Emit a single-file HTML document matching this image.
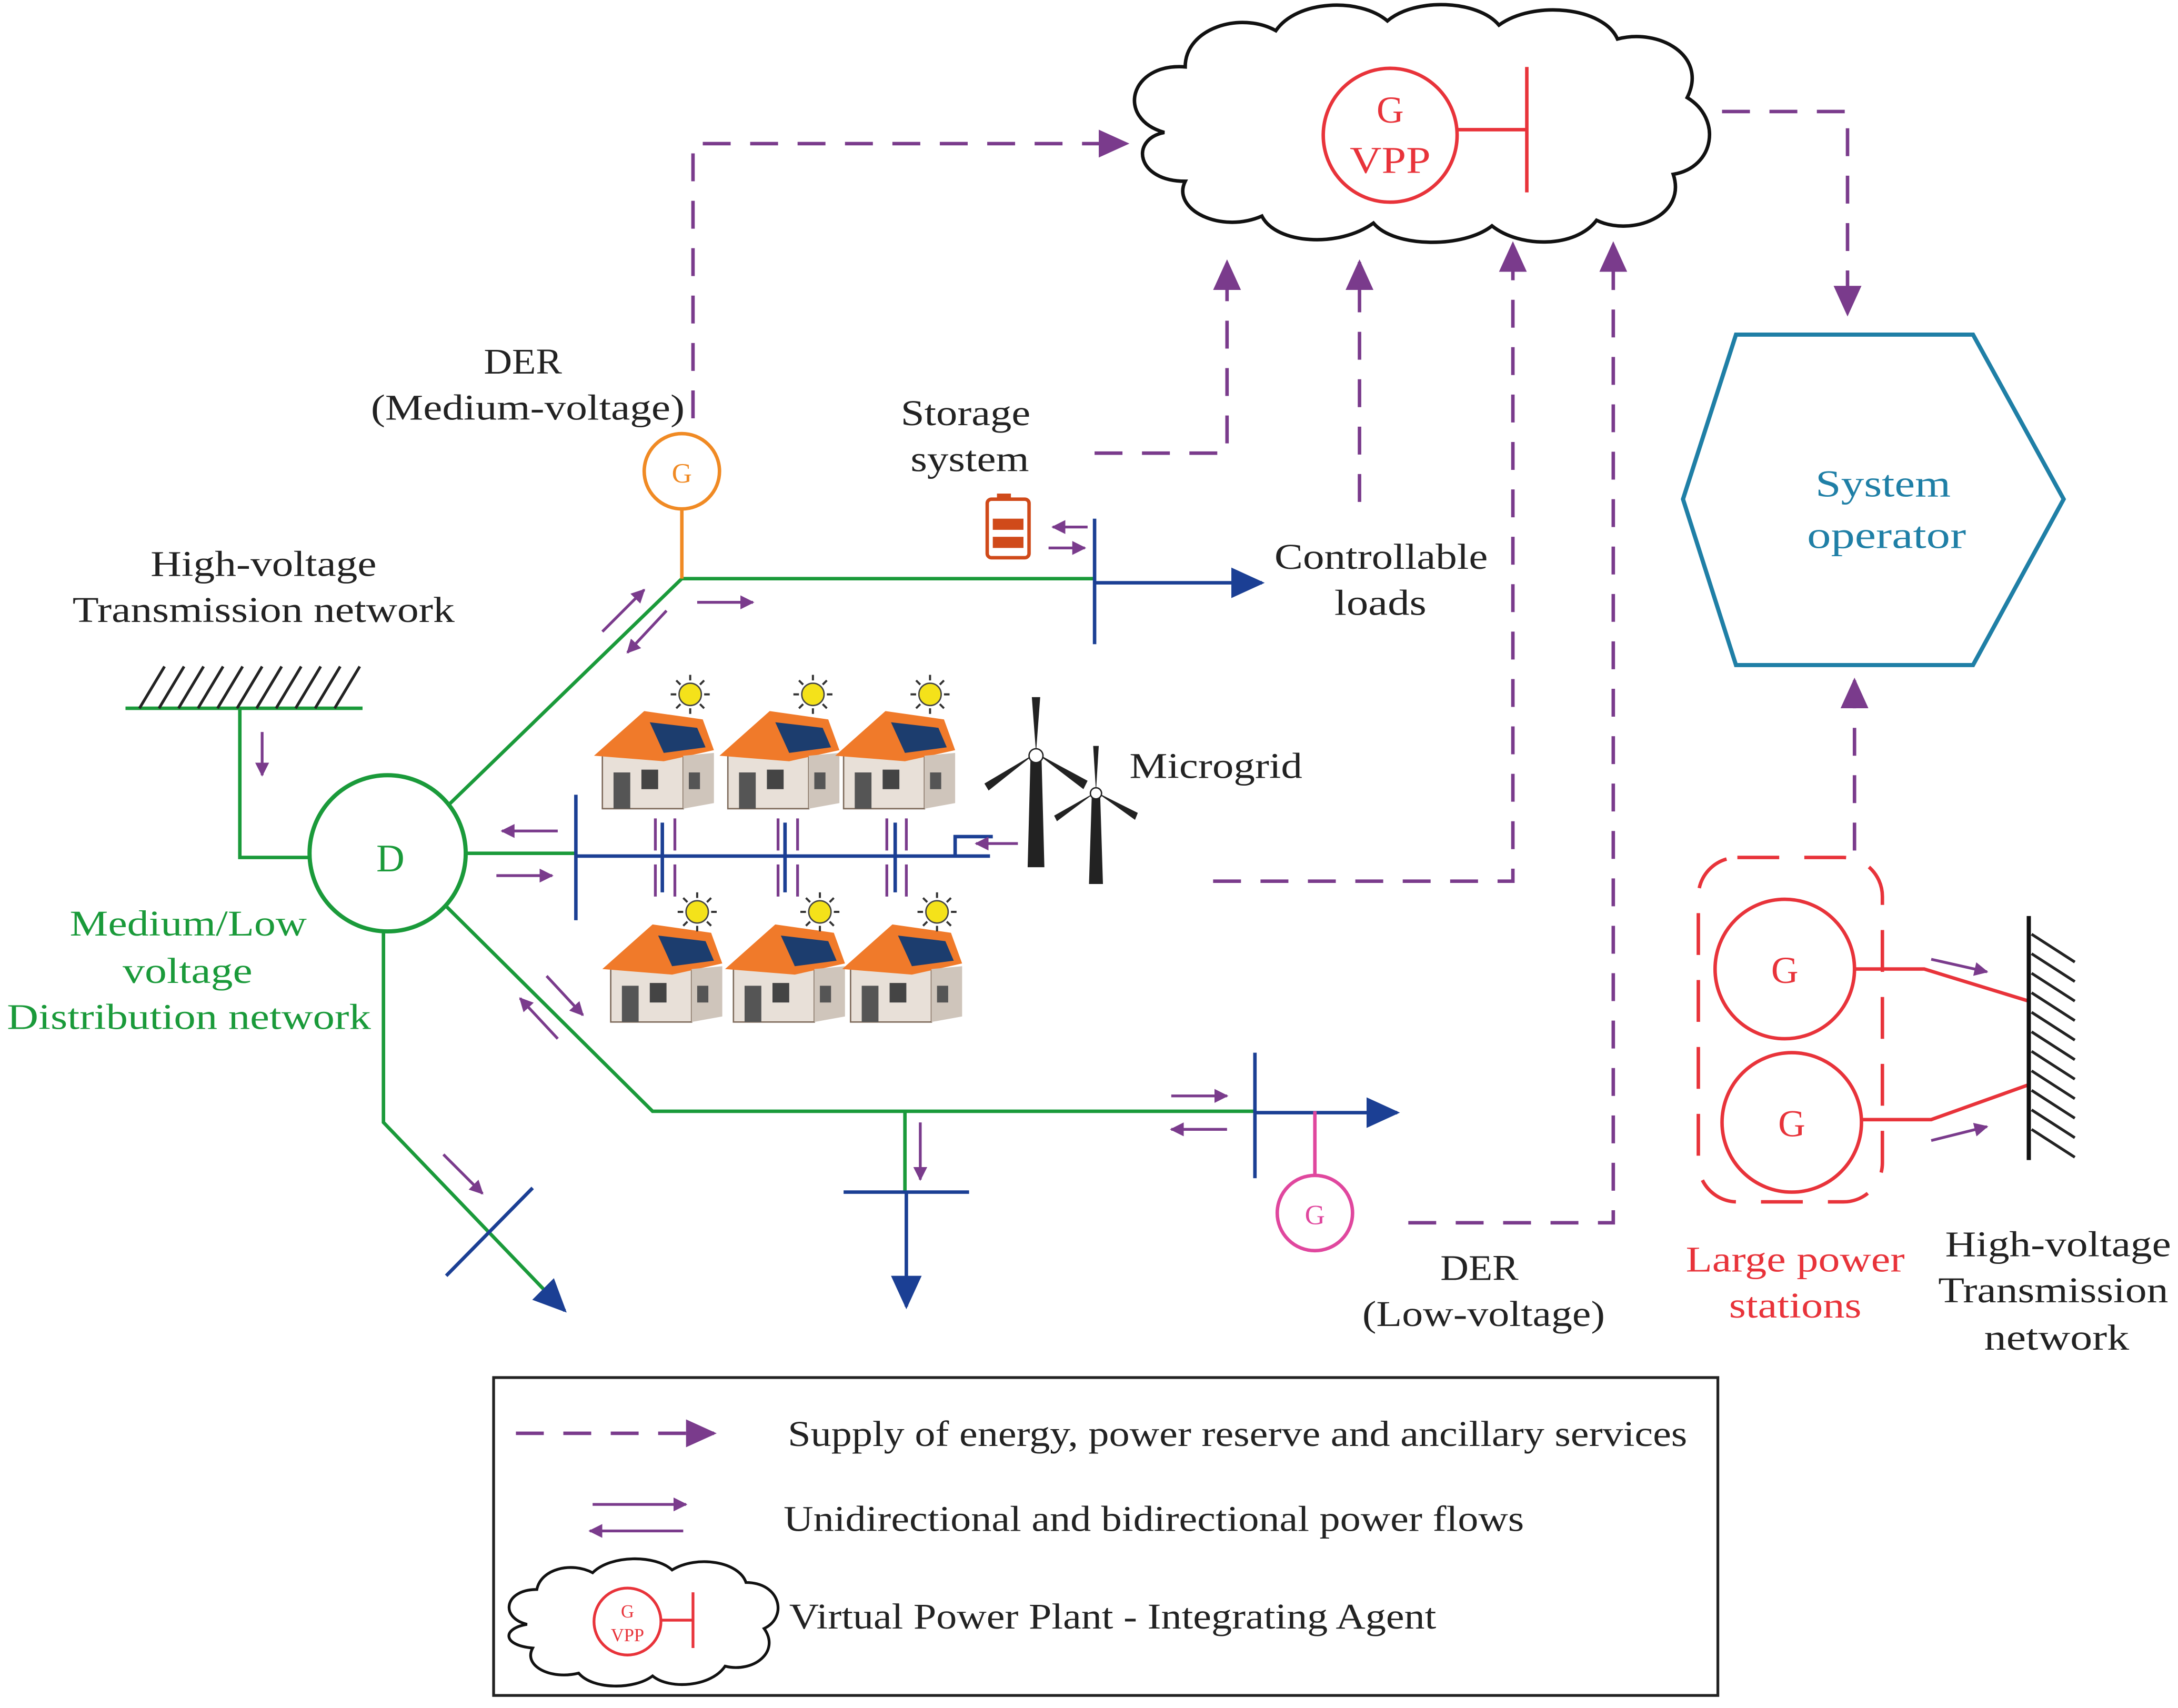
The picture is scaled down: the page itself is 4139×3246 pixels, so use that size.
<!DOCTYPE html>
<html><head><meta charset="utf-8"><style>
html,body{margin:0;padding:0;background:#fff;}
svg{display:block;}
text{font-family:"Liberation Serif",serif;}
</style></head><body>
<svg width="4139" height="3246" viewBox="0 0 1562 1225" xmlns="http://www.w3.org/2000/svg">
<defs>
<marker id="pa" markerWidth="10" markerHeight="10" refX="9" refY="5" orient="auto" markerUnits="userSpaceOnUse"><path d="M0,0 L10,5 L0,10 z" fill="#7a3b8c"/></marker>
<marker id="pb" markerWidth="22" markerHeight="20" refX="20" refY="10" orient="auto" markerUnits="userSpaceOnUse"><path d="M0,0 L22,10 L0,20 z" fill="#7a3b8c"/></marker>
<marker id="ba" markerWidth="24" markerHeight="22" refX="22" refY="11" orient="auto" markerUnits="userSpaceOnUse"><path d="M0,0 L24,11 L0,22 z" fill="#1b3f94"/></marker>
<g id="house">
<polygon points="0,30 30,5 58,30 58,70 0,70" fill="#e8e0d8" stroke="#7d6a5a" stroke-width="1"/>
<polygon points="-6,32 30,0 72,6 80,28 44,36" fill="#f07a2a"/>
<polygon points="34,8 68,12 74,26 44,30" fill="#1c3d6e"/>
<rect x="8" y="44" width="12" height="26" fill="#555"/>
<rect x="28" y="42" width="12" height="14" fill="#444"/>
<polygon points="58,32 80,30 80,66 58,70" fill="#cfc5bb"/>
<rect x="62" y="44" width="8" height="12" fill="#555"/>
</g>
<g id="sun"><circle r="8" fill="#f4e21a" stroke="#444" stroke-width="1"/><path d="M-14,0H-10M10,0H14M0,-14V-10M0,10V14M-10,-10L-7,-7M7,7L10,10M-10,10L-7,7M7,-7L10,-10" stroke="#333" stroke-width="1.5"/></g>
</defs>

<path d="M835,95 C800,85 810,45 850,48 C850,20 890,8 915,22 C930,0 975,-2 995,15 C1015,-2 1060,0 1075,18 C1100,0 1150,5 1160,28 C1190,20 1225,40 1210,70 C1235,85 1230,120 1200,125 C1210,155 1170,170 1145,158 C1130,178 1090,178 1070,162 C1050,178 1000,178 985,160 C960,178 915,175 905,155 C875,168 840,150 850,130 C815,130 810,100 835,95 z" fill="#fff" stroke="#111" stroke-width="2.5"/>
<circle cx="997" cy="97" r="48" fill="none" stroke="#e8333a" stroke-width="2.5"/>
<text x="997" y="88" font-size="27" fill="#e8333a" text-anchor="middle">G</text>
<text x="997" y="124" font-size="27" fill="#e8333a" text-anchor="middle" textLength="58" lengthAdjust="spacingAndGlyphs">VPP</text>
<path d="M1045,93H1095M1095,48V138" stroke="#e8333a" stroke-width="2.5" fill="none"/>

<g stroke="#7a3b8c" stroke-width="2.5" fill="none" stroke-dasharray="20,14">
<path d="M497,300V103H808" marker-end="url(#pb)"/>
<path d="M1235,80H1325V225" marker-end="url(#pb)"/>
<path d="M785,325H880V188" marker-end="url(#pb)"/>
<path d="M975,360V188" marker-end="url(#pb)"/>
<path d="M870,632H1085V175" marker-end="url(#pb)"/>
<path d="M1010,877H1157V175" marker-end="url(#pb)"/>
<path d="M1330,610V488" marker-end="url(#pb)"/>
</g>

<polygon points="1207,358 1245,240 1415,240 1480,358 1415,477 1245,477" fill="none" stroke="#1f7fa6" stroke-width="3"/>
<g font-size="27" fill="#1f7fa6" lengthAdjust="spacingAndGlyphs">
<text x="1302" y="356" textLength="97" lengthAdjust="spacingAndGlyphs">System</text>
<text x="1296" y="393" textLength="114" lengthAdjust="spacingAndGlyphs">operator</text>
</g>

<g font-size="26" fill="#222">
<text x="347" y="268" textLength="56" lengthAdjust="spacingAndGlyphs">DER</text>
<text x="266" y="301" textLength="225" lengthAdjust="spacingAndGlyphs">(Medium-voltage)</text>
<text x="646" y="305" textLength="93" lengthAdjust="spacingAndGlyphs">Storage</text>
<text x="653" y="338" textLength="85" lengthAdjust="spacingAndGlyphs">system</text>
<text x="914" y="408" textLength="153" lengthAdjust="spacingAndGlyphs">Controllable</text>
<text x="957" y="441" textLength="66" lengthAdjust="spacingAndGlyphs">loads</text>
<text x="108" y="413" textLength="162" lengthAdjust="spacingAndGlyphs">High-voltage</text>
<text x="52" y="446" textLength="274" lengthAdjust="spacingAndGlyphs">Transmission network</text>
<text x="810" y="558" textLength="124" lengthAdjust="spacingAndGlyphs">Microgrid</text>
<text x="1033" y="918" textLength="56" lengthAdjust="spacingAndGlyphs">DER</text>
<text x="977" y="951" textLength="174" lengthAdjust="spacingAndGlyphs">(Low-voltage)</text>
<text x="1395" y="901" textLength="162" lengthAdjust="spacingAndGlyphs">High-voltage</text>
<text x="1390" y="934" textLength="165" lengthAdjust="spacingAndGlyphs">Transmission</text>
<text x="1423" y="968" textLength="104" lengthAdjust="spacingAndGlyphs">network</text>
</g>
<g font-size="26" fill="#1a9a3a">
<text x="50" y="671" textLength="170" lengthAdjust="spacingAndGlyphs">Medium/Low</text>
<text x="88" y="705" textLength="93" lengthAdjust="spacingAndGlyphs">voltage</text>
<text x="5" y="738" textLength="261" lengthAdjust="spacingAndGlyphs">Distribution network</text>
</g>
<g font-size="26" fill="#e8333a">
<text x="1209" y="912" textLength="157" lengthAdjust="spacingAndGlyphs">Large power</text>
<text x="1240" y="945" textLength="95" lengthAdjust="spacingAndGlyphs">stations</text>
</g>

<path d="M90,508H260" stroke="#1a9a3a" stroke-width="2.5"/>
<g stroke="#222" stroke-width="2">
<path d="M100,508L118,478M114,508L132,478M128,508L146,478M142,508L160,478M156,508L174,478M170,508L188,478M184,508L202,478M198,508L216,478M212,508L230,478M226,508L244,478M240,508L258,478"/>
</g>
<path d="M172,508V615H222" stroke="#1a9a3a" stroke-width="2.5" fill="none"/>
<path d="M188,525V556" stroke="#7a3b8c" stroke-width="2" marker-end="url(#pa)"/>

<circle cx="278" cy="612" r="56" fill="#fff" stroke="#1a9a3a" stroke-width="3"/>
<text x="280" y="625" font-size="28" fill="#1a9a3a" text-anchor="middle">D</text>

<g stroke="#1a9a3a" stroke-width="2.5" fill="none">
<path d="M322,577L489,415H785"/>
<path d="M335,612H413"/>
<path d="M320,650L468,797H900"/>
<path d="M649,797V855"/>
<path d="M275,668V805L395,930"/>
</g>
<path d="M489,365V415" stroke="#f08a24" stroke-width="2.5"/>
<circle cx="489" cy="338" r="27" fill="#fff" stroke="#f08a24" stroke-width="2.5"/>
<text x="489" y="346" font-size="20" fill="#f08a24" text-anchor="middle">G</text>

<g stroke="#1b3f94" stroke-width="2.5" fill="none">
<path d="M785,372V462"/>
<path d="M785,418H905" marker-end="url(#ba)"/>
<path d="M413,570V660"/>
<path d="M413,614H710"/>
<path d="M685,614V600H712"/>
<path d="M900,755V845"/>
<path d="M900,798H1002" marker-end="url(#ba)"/>
<path d="M605,855H695"/>
<path d="M650,855V937" marker-end="url(#ba)"/>
<path d="M320,915L382,852"/>
<path d="M475,590V640M563,590V640M642,590V640"/>
</g>
<path d="M943,797V843" stroke="#e0479e" stroke-width="2.5"/>
<circle cx="943" cy="870" r="27" fill="#fff" stroke="#e0479e" stroke-width="2.5"/>
<text x="943" y="878" font-size="20" fill="#e0479e" text-anchor="middle">G</text>
<path d="M395,930L405,940" stroke="#1b3f94" stroke-width="2.5" marker-end="url(#ba)"/>

<rect x="715" y="354" width="10" height="5" fill="#d04a1a"/>
<rect x="708" y="358" width="30" height="42" rx="3" fill="#fff" stroke="#d04a1a" stroke-width="2.5"/>
<rect x="712" y="372" width="22" height="8" fill="#d04a1a"/>
<rect x="712" y="385" width="22" height="8" fill="#d04a1a"/>

<g stroke="#7a3b8c" stroke-width="2" fill="none">
<path d="M780,378H755" marker-end="url(#pa)"/>
<path d="M752,393H778" marker-end="url(#pa)"/>
<path d="M432,453L462,423" marker-end="url(#pa)"/>
<path d="M478,438L450,468" marker-end="url(#pa)"/>
<path d="M500,432H540" marker-end="url(#pa)"/>
<path d="M400,596H360" marker-end="url(#pa)"/>
<path d="M356,628H396" marker-end="url(#pa)"/>
<path d="M392,700L418,728" marker-end="url(#pa)"/>
<path d="M400,745L373,716" marker-end="url(#pa)"/>
<path d="M730,605H700" marker-end="url(#pa)"/>
<path d="M840,786H880" marker-end="url(#pa)"/>
<path d="M880,810H840" marker-end="url(#pa)"/>
<path d="M660,805V846" marker-end="url(#pa)"/>
<path d="M318,828L346,856" marker-end="url(#pa)"/>
<path d="M1385,688L1425,697" marker-end="url(#pa)"/>
<path d="M1385,818L1425,808" marker-end="url(#pa)"/>
<path d="M470,587V610M484,610V587M558,587V610M572,610V587M636,587V610M650,610V587"/>
<path d="M470,620V643M484,643V620M558,620V643M572,643V620M636,620V643M650,643V620"/>
</g>

<use href="#house" x="432" y="510"/>
<use href="#house" x="522" y="510"/>
<use href="#house" x="605" y="510"/>
<use href="#house" x="438" y="663"/>
<use href="#house" x="526" y="663"/>
<use href="#house" x="610" y="663"/>
<use href="#sun" x="495" y="498"/>
<use href="#sun" x="583" y="498"/>
<use href="#sun" x="667" y="498"/>
<use href="#sun" x="500" y="654"/>
<use href="#sun" x="588" y="654"/>
<use href="#sun" x="672" y="654"/>

<g fill="#222">
<polygon points="739,545 747,545 749,622 737,622"/>
<polygon points="743,540 746,500 740,500"/>
<polygon points="743,540 706,562 709,567"/>
<polygon points="743,540 780,560 777,566"/>
<circle cx="743" cy="542" r="5" fill="#fff" stroke="#222"/>
<polygon points="783,570 789,570 791,634 781,634"/>
<polygon points="786,568 788,535 784,535"/>
<polygon points="786,568 756,585 758,589"/>
<polygon points="786,568 816,583 814,588"/>
<circle cx="786" cy="569" r="4" fill="#fff" stroke="#222"/>
</g>

<rect x="1218" y="615" width="132" height="247" rx="28" fill="none" stroke="#e8333a" stroke-width="2.5" stroke-dasharray="30,18"/>
<circle cx="1280" cy="695" r="50" fill="#fff" stroke="#e8333a" stroke-width="2.5"/>
<text x="1280" y="705" font-size="27" fill="#e8333a" text-anchor="middle">G</text>
<circle cx="1285" cy="805" r="50" fill="#fff" stroke="#e8333a" stroke-width="2.5"/>
<text x="1285" y="815" font-size="27" fill="#e8333a" text-anchor="middle">G</text>
<path d="M1330,695H1380L1455,718M1335,803H1385L1455,778" stroke="#e8333a" stroke-width="2.5" fill="none"/>
<path d="M1455,657V832" stroke="#111" stroke-width="3"/>
<g stroke="#222" stroke-width="2">
<path d="M1457,670L1488,690M1457,684L1488,704M1457,698L1488,718M1457,712L1488,732M1457,726L1488,746M1457,740L1488,760M1457,754L1488,774M1457,768L1488,788M1457,782L1488,802M1457,796L1488,816M1457,810L1488,830"/>
</g>

<rect x="354" y="988" width="878" height="228" fill="#fff" stroke="#222" stroke-width="2"/>
<path d="M370,1028H512" stroke="#7a3b8c" stroke-width="2.5" stroke-dasharray="20,14" marker-end="url(#pb)"/>
<path d="M425,1079H492" stroke="#7a3b8c" stroke-width="2" marker-end="url(#pa)"/>
<path d="M490,1098H423" stroke="#7a3b8c" stroke-width="2" marker-end="url(#pa)"/>
<g font-size="26" fill="#222">
<text x="565" y="1037" textLength="645" lengthAdjust="spacingAndGlyphs">Supply of energy, power reserve and ancillary services</text>
<text x="562" y="1098" textLength="531" lengthAdjust="spacingAndGlyphs">Unidirectional and bidirectional power flows</text>
<text x="566" y="1168" textLength="464" lengthAdjust="spacingAndGlyphs">Virtual Power Plant - Integrating Agent</text>
</g>
<path d="M378,1165 C358,1160 362,1140 385,1140 C388,1125 410,1120 425,1128 C438,1115 470,1115 482,1126 C500,1115 530,1120 535,1135 C560,1135 565,1160 548,1168 C560,1185 540,1200 520,1195 C510,1210 480,1212 468,1202 C455,1212 425,1212 415,1200 C395,1205 375,1195 382,1182 C360,1180 360,1168 378,1165 z" fill="#fff" stroke="#111" stroke-width="2"/>
<circle cx="450" cy="1163" r="24" fill="#fff" stroke="#e8333a" stroke-width="2"/>
<text x="450" y="1160" font-size="13" fill="#e8333a" text-anchor="middle">G</text>
<text x="450" y="1177" font-size="13" fill="#e8333a" text-anchor="middle">VPP</text>
<path d="M474,1162H497M497,1142V1182" stroke="#e8333a" stroke-width="2" fill="none"/>
</svg>
</body></html>
